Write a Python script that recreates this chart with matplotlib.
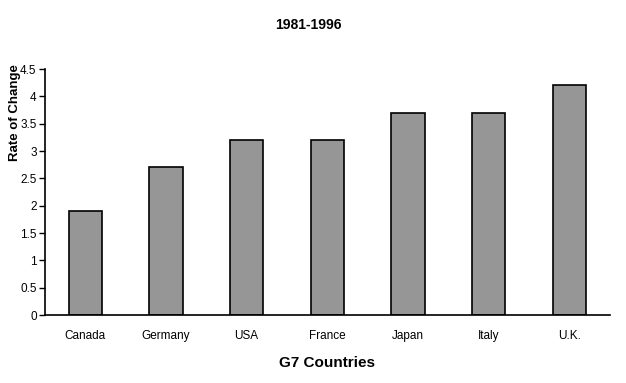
import matplotlib
matplotlib.use('Agg')
import matplotlib.pyplot as plt
import numpy as np

countries = ['Canada', 'Germany', 'USA', 'France', 'Japan', 'Italy', 'U.K.']
rates = [1.9, 2.7, 3.2, 3.2, 3.7, 3.7, 4.2]
yticks = [0, 0.5, 1, 1.5, 2, 2.5, 3, 3.5, 4, 4.5]
ytick_labels = ['0', '0.5', '1', '1.5', '2', '2.5', '3', '3.5', '4', '4.5']

plt.rcParams['font.family'] = ['Liberation Sans', 'DejaVu Sans']

fig = plt.figure(figsize=(6.26, 3.83), dpi=100)
ax = fig.add_axes([0.0719, 0.1775, 0.902, 0.6423])

x = np.arange(len(countries))
ax.bar(x, rates, width=0.41, color='#969696', edgecolor='black', linewidth=1.2)

ax.set_xlim(-0.5, len(countries) - 0.5)
ax.set_ylim(0, 4.5)
ax.set_yticks(yticks)
ax.set_yticklabels(ytick_labels, fontsize=8.5)
ax.set_xticks(x)
ax.set_xticklabels(countries, fontsize=8.5)
ax.tick_params(axis='x', length=0, pad=11)
ax.tick_params(axis='y', length=4, width=1, direction='out', pad=2)

for side in ['top', 'right']:
    ax.spines[side].set_visible(False)
for side in ['left', 'bottom']:
    ax.spines[side].set_linewidth(1.2)

# title and y label sit where the original put them
fig.text(0.492, 1 - 25 / 383, '1981-1996', fontsize=10, fontweight='bold',
         ha='center', va='center')
fig.text(15 / 626, 1 - 113 / 383, 'Rate of Change', fontsize=9.5, fontweight='bold',
         rotation=90, ha='center', va='center')
ax.set_xlabel('G7 Countries', fontsize=11, fontweight='bold', labelpad=10)

fig.savefig('out.png', dpi=100)
